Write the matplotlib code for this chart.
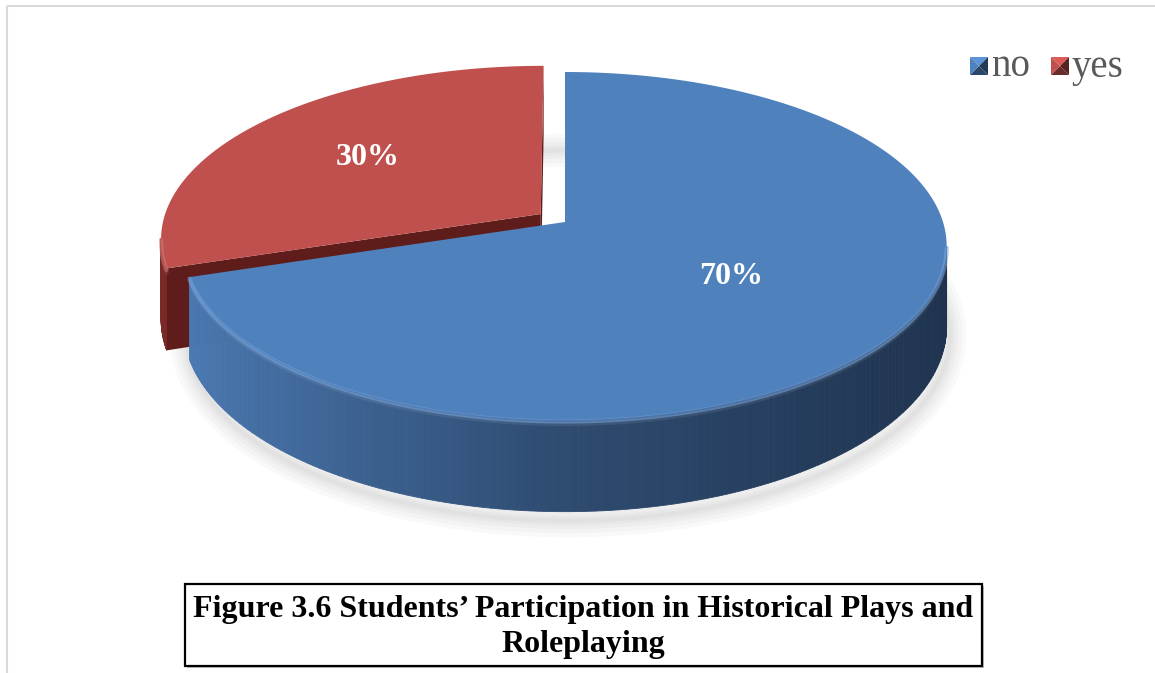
import numpy as np
import matplotlib.pyplot as plt
from matplotlib.patches import Polygon, Rectangle
from matplotlib.colors import to_rgb

labels = ['no', 'yes']
shares = [70, 30]
top_colors = ['#4F81BD', '#C0504D']
wall_colors = [['#4C7BB5', '#2E4B70', '#1E324D'], ['#7A2927', '#5E1C1A', '#4A1514']]
explode = [0.0, 0.08]
caption = "Figure 3.6 Students\u2019 Participation in Historical Plays and\nRoleplaying"

W, H = 1155, 673
fig = plt.figure(figsize=(W / 100, H / 100), dpi=100)
ax = fig.add_axes([0, 0, 1, 1])
ax.set_xlim(0, W)
ax.set_ylim(H, 0)
ax.axis('off')

# chart area frame
ax.add_patch(Rectangle((7, 6), 1300, 800, fc='none', ec='#D9D9D9', lw=1.5))

# perspective of the disc: u to the right, v away from viewer, z down (0 top, 1 base)
cx, cy = 565, 222
R, S, D, k = 378, 170.7, 79, 0.138


def proj(u, v, z=0.0):
    u = np.asarray(u, float)
    v = np.asarray(v, float)
    w = 1 + k * v
    return np.column_stack([cx + R * u / w, cy - S * v / w + D * z / w])


def ramp(cols, s):
    cols = [np.array(to_rgb(c)) for c in cols]
    if s < 0.5:
        return cols[0] + (cols[1] - cols[0]) * s / 0.5
    return cols[1] + (cols[2] - cols[1]) * (s - 0.5) / 0.5


fracs = np.array(shares, float) / sum(shares)
bounds = np.concatenate([[0], np.cumsum(fracs)]) * 2 * np.pi

slices = []
for i in range(len(shares)):
    t0, t1 = bounds[i], bounds[i + 1]
    mid = 0.5 * (t0 + t1)
    du, dv = explode[i] * np.sin(mid), explode[i] * np.cos(mid)
    slices.append((t0, t1, mid, du, dv))

# soft shadow under the base
t_all = np.linspace(0, 2 * np.pi, 200)
base = proj(np.sin(t_all), np.cos(t_all), 1.0) + [3, 9]
for lw in [24, 18, 12, 7, 3]:
    ax.add_patch(Polygon(base, closed=True, fc='none', ec='#000000', alpha=0.022, lw=lw,
                         joinstyle='round'))

# draw the exploded (farther) slice first, then the main one
for i in sorted(range(len(shares)), key=lambda j: -explode[j]):
    t0, t1, mid, du, dv = slices[i]
    # radial faces
    for t, sign in [(t0, -1), (t1, 1)]:
        nu, nv = sign * np.cos(t), -sign * np.sin(t)
        # face visible when the camera lies on its outer side
        if (0 - du) * nu + (-1 / k - dv) * nv > 0:
            pu = [du, du + np.sin(t), du + np.sin(t), du]
            pv = [dv, dv + np.cos(t), dv + np.cos(t), dv]
            pz = [0, 0, 1, 1]
            pts = np.vstack([proj(pu[j], pv[j], pz[j]) for j in range(4)])
            ax.add_patch(Polygon(pts, closed=True, fc=wall_colors[i][1], ec='none'))
    # outer wall, shaded across its width
    tt = np.linspace(t0, t1, 240)
    for a, b in zip(tt[:-1], tt[1:]):
        m = 0.5 * (a + b)
        if np.cos(m) < -k:
            top = proj(du + np.sin([a, b]), dv + np.cos([a, b]), 0.0)
            bot = proj(du + np.sin([b, a]), dv + np.cos([b, a]), 1.0)
            s = (np.sin(m) + 1) / 2
            ax.add_patch(Polygon(np.vstack([top, bot]), closed=True,
                                 fc=ramp(wall_colors[i], s), ec=ramp(wall_colors[i], s), lw=0.6))
    # top face
    arc = proj(du + np.sin(tt), dv + np.cos(tt), 0.0)
    ctr = proj([du], [dv], 0.0)
    ax.add_patch(Polygon(np.vstack([ctr, arc]), closed=True, fc=top_colors[i], ec='none'))
    # bevel highlight along the front rim
    front = np.cos(tt) < -k
    if front.any():
        rim = arc[front]
        hl = '#6C9EDC' if i == 0 else '#D26A66'
        ax.plot(rim[:, 0], rim[:, 1] + 1.5, color=hl, lw=3, alpha=0.55, solid_capstyle='round')
        ax.plot(rim[:, 0], rim[:, 1] + 4, color='#FFFFFF', lw=3, alpha=0.08)

# percentage labels on the top faces
label_r = [0.52, 0.6]
for i in range(len(shares)):
    t0, t1, mid, du, dv = slices[i]
    p = proj([du + label_r[i] * np.sin(mid)], [dv + label_r[i] * np.cos(mid)], 0.0)[0]
    ax.text(p[0], p[1], f'{shares[i]}%', color='white', fontsize=23, fontweight='bold',
            family='Liberation Serif', ha='center', va='center')

# legend with bevelled swatches
lx = [970, 1051]
for i, name in enumerate(labels):
    x0, y0, sz = lx[i], 57, 18
    c = np.array(to_rgb(top_colors[i]))
    corners = [(x0, y0), (x0 + sz, y0), (x0 + sz, y0 + sz), (x0, y0 + sz)]
    centre = (x0 + sz / 2, y0 + sz / 2)
    shades = [1.15, 0.45, 0.55, 1.0]
    for j in range(4):
        tri = [corners[j], corners[(j + 1) % 4], centre]
        ax.add_patch(Polygon(tri, closed=True, fc=np.clip(c * shades[j], 0, 1), ec='none'))
    ax.text(x0 + sz + 3, 67, name, color='#595959', fontsize=28, family='Liberation Serif',
            ha='left', va='center')

# caption box with a slight drop shadow
ax.add_patch(Rectangle((187, 586), 797, 82, fc='#BFBFBF', ec='none'))
ax.add_patch(Rectangle((185, 584), 797, 82, fc='white', ec='black', lw=1.6))
ax.text(583, 627, caption, ha='center', va='center', fontsize=23, fontweight='bold',
        family='Liberation Serif', linespacing=1.3)

fig.savefig('out.png', dpi=100)
